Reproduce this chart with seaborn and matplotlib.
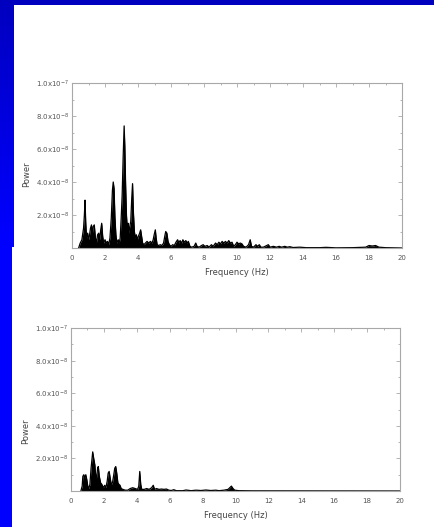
import numpy as np
import pandas as pd
import matplotlib
matplotlib.use("Agg")
import matplotlib.pyplot as plt
from matplotlib.patches import Rectangle
from matplotlib.ticker import FixedLocator, MultipleLocator
import seaborn as sns

# Power spectra (power in units of 1e-8)
freq_top = [0.40, 0.50, 0.60, 0.70, 0.75, 0.79, 0.83, 0.88, 0.95, 1.00, 1.05, 1.12, 1.18, 1.23, 1.28,
            1.35, 1.42, 1.48, 1.55, 1.62, 1.68, 1.74, 1.80, 1.86, 1.92, 2.00, 2.08, 2.15, 2.22, 2.30,
            2.38, 2.45, 2.50, 2.55, 2.60, 2.66, 2.72, 2.80, 2.86, 2.92, 2.98, 3.04, 3.10, 3.16, 3.20,
            3.25, 3.30, 3.35, 3.40, 3.45, 3.50, 3.56, 3.62, 3.67, 3.72, 3.78, 3.84, 3.90, 3.96, 4.02,
            4.10, 4.16, 4.22, 4.28, 4.36, 4.45, 4.55, 4.65, 4.75, 4.85, 4.92, 4.98, 5.05, 5.10, 5.16,
            5.25, 5.35, 5.45, 5.55, 5.62, 5.68, 5.75, 5.82, 5.90, 6.00, 6.10, 6.20, 6.30, 6.40, 6.48,
            6.55, 6.65, 6.72, 6.80, 6.90, 6.98, 7.05, 7.15, 7.25, 7.40, 7.50, 7.58, 7.70, 7.85, 7.95,
            8.05, 8.20, 8.30, 8.45, 8.55, 8.70, 8.80, 8.90, 9.00, 9.10, 9.20, 9.30, 9.40, 9.50, 9.60,
            9.70, 9.80, 9.90, 10.00, 10.10, 10.20, 10.30, 10.40, 10.55, 10.70, 10.80, 10.88, 11.00,
            11.15, 11.25, 11.35, 11.45, 11.60, 11.80, 11.90, 12.00, 12.20, 12.40, 12.55, 12.70, 12.90,
            13.05, 13.20, 13.40, 13.80, 14.20, 15.00, 15.40, 16.00, 17.00, 17.80, 18.00, 18.20, 18.40,
            18.60, 19.00, 20.00]
power_top = [0.0, 0.3, 0.5, 1.2, 2.0, 2.9, 1.6, 0.6, 0.9, 0.5, 0.7, 1.2, 1.4, 0.8, 1.3,
             1.4, 0.6, 0.3, 0.8, 0.9, 0.5, 1.1, 1.5, 0.7, 0.3, 0.5, 0.3, 0.4, 0.2, 0.6,
             1.8, 3.5, 4.0, 3.6, 1.9, 0.8, 0.3, 0.5, 0.3, 0.6, 1.8, 3.2, 5.5, 7.4, 6.2,
             3.8, 2.0, 1.2, 1.5, 0.9, 1.3, 1.6, 3.0, 3.9, 2.2, 1.0, 0.6, 0.8, 0.5, 0.7,
             0.9, 1.1, 0.7, 0.3, 0.2, 0.3, 0.4, 0.3, 0.4, 0.3, 0.5, 0.8, 1.1, 0.6, 0.2,
             0.15, 0.2, 0.15, 0.3, 0.7, 1.0, 0.9, 0.4, 0.2, 0.1, 0.2, 0.15, 0.35, 0.5, 0.3,
             0.45, 0.3, 0.5, 0.35, 0.45, 0.3, 0.4, 0.1, 0.05, 0.1, 0.3, 0.1, 0.05, 0.15, 0.2,
             0.1, 0.15, 0.05, 0.2, 0.1, 0.3, 0.2, 0.35, 0.25, 0.4, 0.3, 0.4, 0.3, 0.45, 0.3,
             0.35, 0.1, 0.2, 0.35, 0.25, 0.3, 0.25, 0.1, 0.05, 0.2, 0.5, 0.1, 0.05,
             0.2, 0.1, 0.2, 0.05, 0.05, 0.15, 0.2, 0.05, 0.1, 0.05, 0.1, 0.05, 0.1,
             0.05, 0.08, 0.03, 0.05, 0.02, 0.02, 0.04, 0.01, 0.02, 0.05, 0.15, 0.12, 0.15,
             0.05, 0.02, 0.0]

freq_bot = [0.60, 0.68, 0.72, 0.78, 0.84, 0.90, 0.96, 1.02, 1.08, 1.15, 1.22, 1.28, 1.32, 1.38, 1.45,
            1.50, 1.55, 1.62, 1.66, 1.72, 1.80, 1.88, 1.95, 2.05, 2.12, 2.20, 2.26, 2.32, 2.38, 2.45,
            2.52, 2.60, 2.66, 2.72, 2.78, 2.85, 2.92, 2.98, 3.05, 3.15, 3.30, 3.45, 3.60, 3.75, 3.90,
            4.05, 4.12, 4.18, 4.24, 4.30, 4.45, 4.60, 4.75, 4.90, 5.00, 5.08, 5.20, 5.35, 5.50, 5.65,
            5.80, 5.95, 6.10, 6.25, 6.40, 6.80, 7.00, 7.30, 7.60, 7.90, 8.20, 8.50, 8.80, 9.00, 9.30,
            9.55, 9.65, 9.75, 9.85, 9.95, 10.20, 11.00, 20.00]
power_bot = [0.0, 0.3, 0.9, 1.0, 0.8, 1.0, 0.7, 0.3, 0.15, 0.4, 1.4, 2.0, 2.4, 2.0, 1.6,
             0.9, 0.8, 1.4, 1.5, 0.9, 0.5, 0.4, 0.2, 0.35, 0.2, 0.6, 1.1, 1.2, 0.8, 0.4,
             0.5, 1.0, 1.4, 1.5, 1.1, 0.5, 0.4, 0.35, 0.15, 0.1, 0.05, 0.05, 0.15, 0.2, 0.15,
             0.1, 0.3, 1.2, 0.4, 0.1, 0.1, 0.15, 0.1, 0.2, 0.35, 0.1, 0.15, 0.1, 0.12, 0.1,
             0.12, 0.05, 0.03, 0.08, 0.02, 0.02, 0.06, 0.02, 0.05, 0.03, 0.06, 0.03, 0.05, 0.02, 0.05,
             0.1, 0.2, 0.3, 0.15, 0.05, 0.02, 0.01, 0.0]

x_ticks = [0, 2, 4, 6, 8, 10, 12, 14, 16, 18, 20]
y_ticks = [2e-8, 4e-8, 6e-8, 8e-8, 1e-7]
y_tick_labels = [r"2.0x10$^{-8}$", r"4.0x10$^{-8}$", r"6.0x10$^{-8}$", r"8.0x10$^{-8}$", r"1.0x10$^{-7}$"]

sns.set_theme(style="white")
plt.rcParams["font.family"] = ["DejaVu Sans"]

W, H = 434, 527
fig = plt.figure(figsize=(W / 100, H / 100), dpi=100)

# Slide background: blue gradient behind a white panel
bg = fig.add_axes([0, 0, 1, 1])
grad = np.linspace(0, 1, 256)
cols = np.zeros((256, 1, 3))
cols[:, 0, 2] = np.clip(0.75 + 0.25 * (grad / 0.45), 0.75, 1.0)
bg.imshow(cols, extent=[0, W, H, 0], aspect="auto")
bg.set_xlim(0, W)
bg.set_ylim(H, 0)
bg.axis("off")
bg.add_patch(Rectangle((14, 5), W - 14, 242, color="white", lw=0))
bg.add_patch(Rectangle((12, 247), W - 12, H - 247, color="white", lw=0))

spine_col = "#a8a8a8"
text_col = "#555555"


def draw_panel(rect, freqs, powers, ylab_y):
    ax = fig.add_axes(rect)
    ax.set_facecolor("none")
    df = pd.DataFrame({"Frequency": freqs, "Power": np.array(powers) * 1e-8})
    sns.lineplot(data=df, x="Frequency", y="Power", color="black", lw=0.9, ax=ax)
    ax.fill_between(df["Frequency"], 0, df["Power"], color="black", lw=0)
    ax.set_xlim(0, 20)
    ax.set_ylim(0, 1e-7)
    ax.xaxis.set_major_locator(FixedLocator(x_ticks))
    ax.xaxis.set_minor_locator(MultipleLocator(1))
    ax.yaxis.set_major_locator(FixedLocator(y_ticks))
    ax.yaxis.set_minor_locator(MultipleLocator(1e-8))
    ax.set_xticklabels([str(t) for t in x_ticks])
    ax.set_yticklabels(y_tick_labels)
    for s in ax.spines.values():
        s.set_visible(True)
        s.set_color(spine_col)
        s.set_linewidth(0.8)
    ax.tick_params(axis="both", which="both", colors=spine_col, labelcolor=text_col,
                   labelsize=5, width=0.6, top=True, right=True, direction="in")
    ax.tick_params(axis="both", which="major", length=3)
    ax.tick_params(axis="both", which="minor", length=1.5)
    ax.tick_params(axis="y", which="both", left=True, pad=2)
    ax.tick_params(axis="x", which="both", pad=5)
    ax.set_xlabel("Frequency (Hz)", fontsize=6, color="#444444", labelpad=5)
    ax.set_ylabel("Power", fontsize=6, color="#444444")
    ax.yaxis.set_label_coords(-0.125, ylab_y)
    return ax


draw_panel([72 / W, 1 - 248 / H, 330 / W, 165 / H], freq_top, power_top, 0.45)
draw_panel([71 / W, 1 - 491 / H, 329 / W, 163 / H], freq_bot, power_bot, 0.37)

fig.savefig("out.png", dpi=100)
